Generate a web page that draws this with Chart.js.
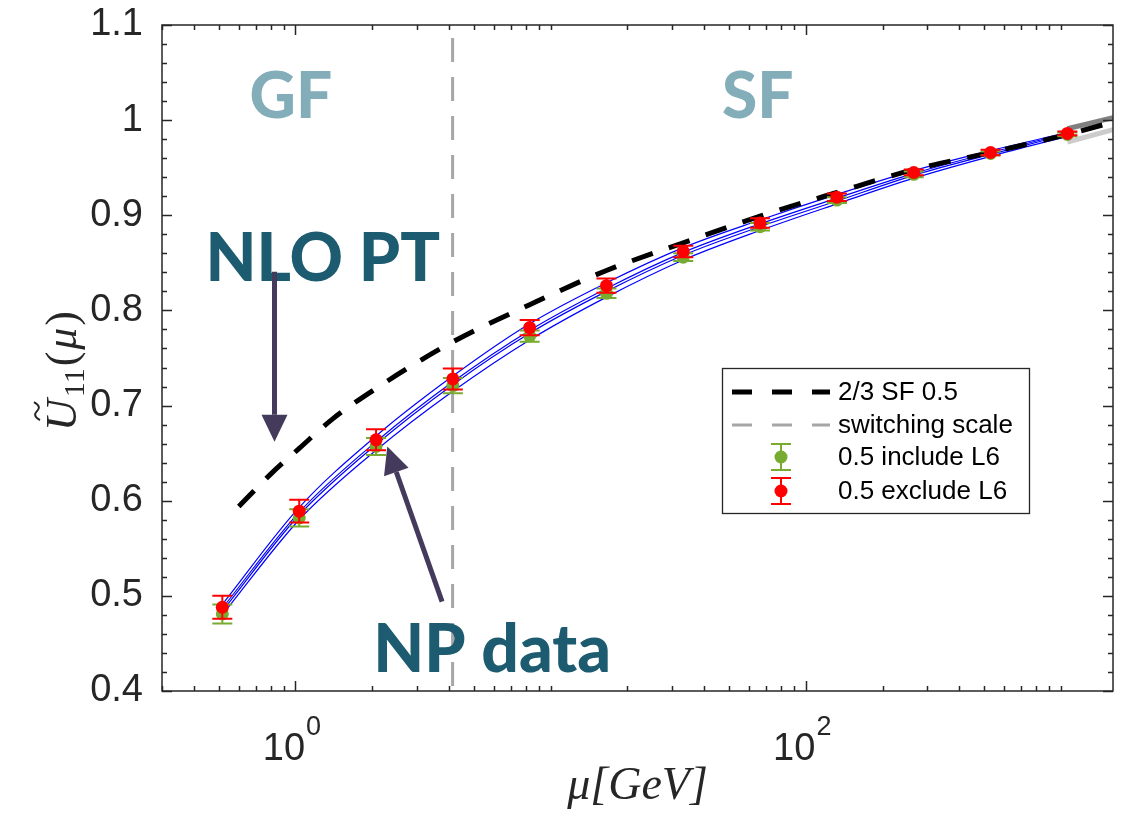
<!DOCTYPE html>
<html>
<head>
<meta charset="utf-8">
<script src="https://cdn.jsdelivr.net/npm/chart.js@4.4.1/dist/chart.umd.min.js"></script>
<style>
  body { margin: 0; background: #fff; }
  #plot { display: block; }
</style>
</head>
<body>
<canvas id="plot" width="1123" height="815"></canvas>
<script>
// scale mu [GeV] of the step scaling points
const muPoints = [0.517, 1.035, 2.07, 4.14, 8.28, 16.56, 33.1, 66.2, 132.5, 265, 530, 1060];

// 0.5 exclude L6 (red) and 0.5 include L6 (green)
const excludeL6 = [0.488, 0.589, 0.664, 0.728, 0.782, 0.826, 0.862, 0.892, 0.919, 0.945, 0.966, 0.986];
const excludeErr = [0.012, 0.012, 0.011, 0.011, 0.008, 0.0075, 0.006, 0.005, 0.004, 0.003, 0.003, 0.002];
const includeL6 = [0.481, 0.582, 0.657, 0.721, 0.773, 0.818, 0.856, 0.888, 0.916, 0.943, 0.965, 0.985];
const includeErr = [0.010, 0.009, 0.009, 0.008, 0.006, 0.005, 0.004, 0.004, 0.003, 0.003, 0.002, 0.002];

// thin blue band lines through the data
const bandTop = [0.491, 0.593, 0.668, 0.731, 0.786, 0.829, 0.866, 0.895, 0.922, 0.947, 0.968, 0.987];
const bandMidA = [0.487, 0.588, 0.662, 0.725, 0.779, 0.823, 0.861, 0.891, 0.918, 0.944, 0.966, 0.986];
const bandMidB = [0.484, 0.585, 0.659, 0.722, 0.776, 0.820, 0.858, 0.888, 0.915, 0.942, 0.964, 0.985];
const bandLow = [0.480, 0.580, 0.653, 0.715, 0.769, 0.814, 0.853, 0.884, 0.912, 0.939, 0.962, 0.983];

// NLO PT curve (2/3 SF 0.5)
const nloMu = [0.6, 0.8, 1.035, 1.4, 2.07, 4.14, 8.28, 16.56, 33.1, 66.2, 132.5, 265, 530, 1060, 1600];
const nloValues = [0.594, 0.628, 0.655, 0.686, 0.718, 0.767, 0.806, 0.842, 0.871, 0.899, 0.924, 0.948, 0.966, 0.985, 0.998];

// grey edges past the last point
const tailMu = [1060, 1600];
const tailUpper = [0.991, 1.0025];
const tailLower = [0.977, 0.990];

const switchMu = 4.13;

// axis ticks
const yTicks = [0.4, 0.5, 0.6, 0.7, 0.8, 0.9, 1.0, 1.1];
const xTickValues = [1, 100];
const xTickExponents = ['0', '2'];

const axisColor = '#262626';
const red = '#ff0000';
const green = '#77ac30';
const blue = '#0000ff';

const toXY = (xs, ys) => xs.map((x, i) => ({ x: x, y: ys[i] }));

const blueLine = (label, values) => ({
  label: label,
  data: toXY(muPoints, values),
  borderColor: blue,
  borderWidth: 1.2,
  pointRadius: 0,
  cubicInterpolationMode: 'monotone'
});

const drawErrorBars = (chart, values, errors, color) => {
  const ctx = chart.ctx;
  const xs = chart.scales.x;
  const ys = chart.scales.y;
  ctx.save();
  ctx.strokeStyle = color;
  ctx.lineWidth = 2;
  muPoints.forEach((mu, i) => {
    const px = xs.getPixelForValue(mu);
    const top = ys.getPixelForValue(values[i] + errors[i]);
    const bot = ys.getPixelForValue(values[i] - errors[i]);
    ctx.beginPath();
    ctx.moveTo(px, top);
    ctx.lineTo(px, bot);
    ctx.moveTo(px - 10, top);
    ctx.lineTo(px + 10, top);
    ctx.moveTo(px - 10, bot);
    ctx.lineTo(px + 10, bot);
    ctx.stroke();
  });
  ctx.restore();
};

const drawArrow = (ctx, x1, y1, x2, y2) => {
  const len = Math.hypot(x2 - x1, y2 - y1);
  const dx = (x2 - x1) / len;
  const dy = (y2 - y1) / len;
  const bx = x2 - dx * 27;
  const by = y2 - dy * 27;
  ctx.beginPath();
  ctx.moveTo(x1, y1);
  ctx.lineTo(bx, by);
  ctx.stroke();
  ctx.beginPath();
  ctx.moveTo(x2, y2);
  ctx.lineTo(bx - dy * 13, by + dx * 13);
  ctx.lineTo(bx + dy * 13, by - dx * 13);
  ctx.closePath();
  ctx.fill();
};

// box, inward ticks and tick labels in the matlab way
const drawAxes = (chart) => {
  const ctx = chart.ctx;
  const a = chart.chartArea;
  const x = chart.scales.x;
  const y = chart.scales.y;
  ctx.save();
  ctx.strokeStyle = axisColor;
  ctx.lineWidth = 1.5;
  ctx.beginPath();
  for (let k = 0; k <= 35; k++) {
    const py = Math.round(y.getPixelForValue(0.4 + k * 0.02)) + 0.5;
    const len = k % 5 === 0 ? 10 : 5;
    ctx.moveTo(a.left, py);
    ctx.lineTo(a.left + len, py);
    ctx.moveTo(a.right, py);
    ctx.lineTo(a.right - len, py);
  }
  for (let e = -1; e <= 3; e++) {
    for (let m = 1; m <= 9; m++) {
      const v = m * Math.pow(10, e);
      if (v < x.min || v > x.max) continue;
      const px = Math.round(x.getPixelForValue(v)) + 0.5;
      const len = xTickValues.includes(v) ? 10 : 5;
      ctx.moveTo(px, a.bottom);
      ctx.lineTo(px, a.bottom - len);
      ctx.moveTo(px, a.top);
      ctx.lineTo(px, a.top + len);
    }
  }
  ctx.stroke();
  ctx.strokeRect(a.left, a.top, a.right - a.left, a.bottom - a.top);

  // 10^n labels
  ctx.fillStyle = axisColor;
  ctx.textBaseline = 'alphabetic';
  xTickValues.forEach((v, i) => {
    const px = x.getPixelForValue(v);
    ctx.font = '38px "Liberation Sans"';
    const wBase = ctx.measureText('10').width;
    ctx.font = '27px "Liberation Sans"';
    const wExp = ctx.measureText(xTickExponents[i]).width;
    const start = px - (wBase + wExp) / 2 - 4;
    ctx.font = '38px "Liberation Sans"';
    ctx.textAlign = 'left';
    ctx.fillText('10', start, a.bottom + 69);
    ctx.font = '27px "Liberation Sans"';
    ctx.fillText(xTickExponents[i], start + wBase + 1, a.bottom + 44);
  });
  ctx.restore();
};

const drawYTitle = (ctx) => {
  const parts = [
    { t: 'U', f: 'italic 44px "Liberation Serif"', dy: 0 },
    { t: '11', f: '30px "Liberation Serif"', dy: 8 },
    { t: '(', f: '44px "Liberation Serif"', dy: 0 },
    { t: 'μ', f: 'italic 44px "Liberation Serif"', dy: 0 },
    { t: ')', f: '44px "Liberation Serif"', dy: 0 }
  ];
  ctx.save();
  ctx.translate(62, 370);
  ctx.rotate(-Math.PI / 2);
  ctx.fillStyle = axisColor;
  ctx.textAlign = 'left';
  ctx.textBaseline = 'alphabetic';
  let total = 0;
  parts.forEach(p => { ctx.font = p.f; p.w = ctx.measureText(p.t).width; total += p.w + 2; });
  let cx = -total / 2;
  parts.forEach((p, i) => {
    ctx.font = p.f;
    ctx.fillText(p.t, cx, 14 + p.dy);
    if (i === 0) {
      // tilde over the U
      const tx = cx + p.w / 2 + 4;
      ctx.strokeStyle = axisColor;
      ctx.lineWidth = 2;
      ctx.beginPath();
      ctx.moveTo(tx - 9, -22);
      ctx.bezierCurveTo(tx - 5, -29, tx - 2, -27, tx, -25);
      ctx.bezierCurveTo(tx + 2, -23, tx + 5, -21, tx + 9, -28);
      ctx.stroke();
    }
    cx += p.w + 2;
  });
  ctx.restore();
};

const drawLegend = (chart) => {
  const ctx = chart.ctx;
  const left = 722, top = 368, width = 307, height = 145;
  const rows = [392, 425, 457, 491];
  ctx.save();
  ctx.fillStyle = '#fff';
  ctx.fillRect(left, top, width, height);
  ctx.strokeStyle = axisColor;
  ctx.lineWidth = 1.3;
  ctx.strokeRect(left + 0.5, top + 0.5, width, height);

  ctx.setLineDash([20, 20]);
  ctx.strokeStyle = '#000';
  ctx.lineWidth = 5;
  ctx.beginPath();
  ctx.moveTo(732, rows[0]);
  ctx.lineTo(830, rows[0]);
  ctx.stroke();
  ctx.strokeStyle = '#a6a6a6';
  ctx.lineWidth = 3;
  ctx.beginPath();
  ctx.moveTo(732, rows[1]);
  ctx.lineTo(830, rows[1]);
  ctx.stroke();
  ctx.setLineDash([]);

  [[green, rows[2]], [red, rows[3]]].forEach(([c, ry]) => {
    ctx.strokeStyle = c;
    ctx.fillStyle = c;
    ctx.lineWidth = 2;
    ctx.beginPath();
    ctx.moveTo(781, ry - 13);
    ctx.lineTo(781, ry + 13);
    ctx.moveTo(771, ry - 13);
    ctx.lineTo(791, ry - 13);
    ctx.moveTo(771, ry + 13);
    ctx.lineTo(791, ry + 13);
    ctx.stroke();
    ctx.beginPath();
    ctx.arc(781, ry, 6.5, 0, 2 * Math.PI);
    ctx.fill();
  });

  const labels = ['2/3 SF 0.5', 'switching scale', '0.5 include L6', '0.5 exclude L6'];
  ctx.fillStyle = '#000';
  ctx.font = '26px "Liberation Sans"';
  ctx.textAlign = 'left';
  ctx.textBaseline = 'middle';
  labels.forEach((t, i) => ctx.fillText(t, 838, rows[i] + 1));
  ctx.restore();
};

// GF / SF regions, NLO PT and NP data with their arrows, placed in data units
const drawNotes = (chart) => {
  const ctx = chart.ctx;
  const x = chart.scales.x;
  const y = chart.scales.y;
  ctx.save();
  ctx.textAlign = 'center';
  ctx.textBaseline = 'alphabetic';
  ctx.font = '900 64px Lato';
  ctx.fillStyle = '#82adb9';
  ctx.fillText('GF', x.getPixelForValue(0.96), y.getPixelForValue(1.0025));
  ctx.fillText('SF', x.getPixelForValue(64.8), y.getPixelForValue(1.0025));
  ctx.font = '900 66px Lato';
  ctx.fillStyle = '#1c5b70';
  ctx.fillText('NLO PT', x.getPixelForValue(1.28), y.getPixelForValue(0.8311));
  ctx.fillText('NP data', x.getPixelForValue(5.9), y.getPixelForValue(0.42));

  ctx.strokeStyle = '#443a5b';
  ctx.fillStyle = '#443a5b';
  ctx.lineWidth = 5;
  drawArrow(ctx, x.getPixelForValue(0.828), y.getPixelForValue(0.8406),
    x.getPixelForValue(0.828), y.getPixelForValue(0.6621));
  drawArrow(ctx, x.getPixelForValue(3.756), y.getPixelForValue(0.4939),
    x.getPixelForValue(2.291), y.getPixelForValue(0.6569));
  ctx.restore();
};

const matlabLook = {
  id: 'matlabLook',
  beforeDatasetDraw: (chart, args) => {
    if (args.index === 1) drawErrorBars(chart, includeL6, includeErr, green);
    if (args.index === 0) drawErrorBars(chart, excludeL6, excludeErr, red);
  },
  afterDraw: (chart) => {
    drawNotes(chart);
    drawAxes(chart);
    drawYTitle(chart.ctx);
    drawLegend(chart);
  }
};

const plot = new Chart(document.getElementById('plot'), {
  type: 'line',
  data: {
    datasets: [
      {
        label: '0.5 exclude L6',
        data: toXY(muPoints, excludeL6),
        showLine: false,
        pointRadius: 6.5,
        pointBorderWidth: 0,
        pointBackgroundColor: red,
        borderColor: red
      },
      {
        label: '0.5 include L6',
        data: toXY(muPoints, includeL6),
        showLine: false,
        pointRadius: 6.5,
        pointBorderWidth: 0,
        pointBackgroundColor: green,
        borderColor: green
      },
      {
        label: '2/3 SF 0.5',
        data: toXY(nloMu, nloValues),
        borderColor: '#000',
        borderWidth: 5,
        borderDash: [22, 17],
        pointRadius: 0,
        cubicInterpolationMode: 'monotone'
      },
      {
        label: 'switching scale',
        data: [{ x: switchMu, y: 1.1 }, { x: switchMu, y: 0.4 }],
        borderColor: '#a6a6a6',
        borderWidth: 3,
        borderDash: [24, 15],
        borderDashOffset: 26,
        pointRadius: 0
      },
      {
        label: 'tail upper',
        data: toXY(tailMu, tailUpper),
        borderColor: '#808080',
        borderWidth: 5,
        pointRadius: 0
      },
      {
        label: 'tail lower',
        data: toXY(tailMu, tailLower),
        borderColor: '#cccccc',
        borderWidth: 5,
        pointRadius: 0
      },
      blueLine('band top', bandTop),
      blueLine('band mid a', bandMidA),
      blueLine('band mid b', bandMidB),
      blueLine('band low', bandLow)
    ]
  },
  options: {
    responsive: false,
    animation: false,
    devicePixelRatio: 1,
    layout: { padding: { top: 25, right: 10, left: 0, bottom: 0 } },
    plugins: {
      legend: { display: false },
      tooltip: { enabled: false }
    },
    scales: {
      x: {
        type: 'logarithmic',
        min: 0.31,
        max: 1600,
        grid: { display: false, drawTicks: false },
        border: { display: false },
        ticks: { display: false },
        title: {
          display: true,
          text: 'μ[GeV]',
          color: axisColor,
          padding: 0,
          font: { family: 'Liberation Serif', style: 'italic', size: 46 }
        },
        afterFit: (scale) => { scale.height = 124; }
      },
      y: {
        min: 0.4,
        max: 1.1,
        grid: { display: false, drawTicks: true, tickLength: 19 },
        border: { display: false },
        afterBuildTicks: (scale) => { scale.ticks = yTicks.map(v => ({ value: v })); },
        ticks: {
          padding: 0,
          color: axisColor,
          font: { family: 'Liberation Sans', size: 38 },
          callback: (v) => String(+v.toFixed(2))
        },
        afterFit: (scale) => { scale.width = 162; }
      }
    }
  },
  plugins: [matlabLook]
});
</script>
</body>
</html>
